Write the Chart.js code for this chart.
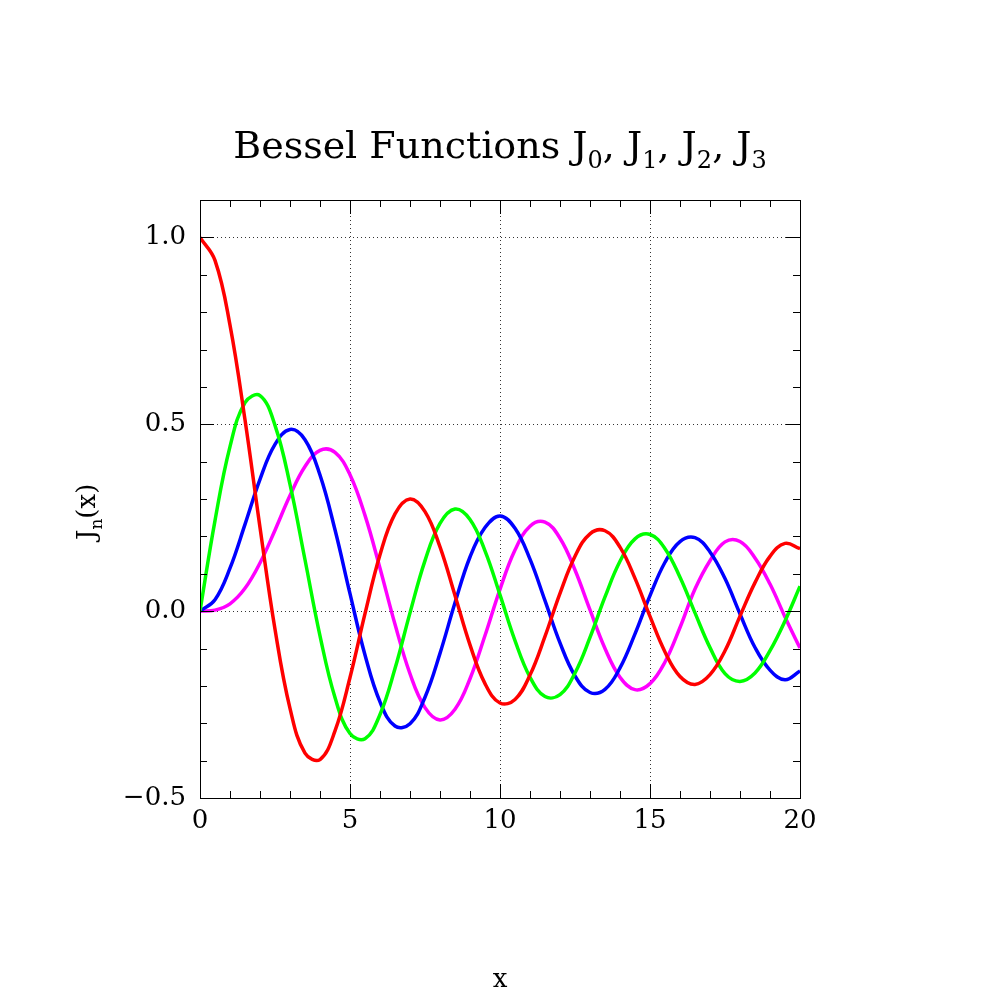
<!DOCTYPE html>
<html><head><meta charset="utf-8">
<script src="https://cdn.jsdelivr.net/npm/chart.js@4/dist/chart.umd.min.js"></script>
<style>body{margin:0;background:#fff}#wrap{width:1000px;height:1000px}</style>
</head><body><div id="wrap"><canvas id="c"></canvas></div>
<script>
// x samples and Bessel values
var xs = [0,0.5,1,1.5,2,2.5,3,3.5,4,4.5,5,5.5,6,6.5,7,7.5,8,8.5,9,9.5,10,10.5,11,11.5,12,12.5,13,13.5,14,14.5,15,15.5,16,16.5,17,17.5,18,18.5,19,19.5,20];
var j0 = [1,0.9385,0.7652,0.5118,0.2239,-0.0484,-0.2601,-0.3801,-0.3971,-0.3205,-0.1776,-0.0068,0.1506,0.2601,0.3001,0.2663,0.1717,0.0419,-0.0903,-0.1939,-0.2459,-0.2366,-0.1712,-0.0677,0.0477,0.1469,0.2069,0.2150,0.1711,0.0875,-0.0142,-0.1092,-0.1749,-0.1960,-0.1699,-0.1061,-0.0134,0.0762,0.1466,0.1813,0.1670];
var j1 = [0,0.2423,0.4401,0.5579,0.5767,0.4971,0.3391,0.1374,-0.0660,-0.2311,-0.3276,-0.3414,-0.2767,-0.1538,-0.0047,0.1352,0.2346,0.2731,0.2453,0.1613,0.0435,-0.0789,-0.1768,-0.2284,-0.2234,-0.1655,-0.0703,0.0380,0.1334,0.1934,0.2051,0.1672,0.0904,-0.0047,-0.0977,-0.1672,-0.1880,-0.1655,-0.1057,-0.0262,0.0668];
var j2 = [0,0.0306,0.1149,0.2321,0.3528,0.4461,0.4861,0.4586,0.3641,0.2178,0.0466,-0.1173,-0.2429,-0.3074,-0.3014,-0.2303,-0.1130,0.0223,0.1448,0.2235,0.2546,0.2216,0.1390,0.0280,-0.0849,-0.1734,-0.2177,-0.2094,-0.1520,-0.0609,0.0416,0.1308,0.1862,0.1966,0.1584,0.0870,-0.0075,-0.0973,-0.1578,-0.1834,-0.1603];
var j3 = [0,0.0026,0.0196,0.0610,0.1289,0.2166,0.3091,0.3868,0.4302,0.4247,0.3648,0.2561,0.1148,-0.0353,-0.1676,-0.2581,-0.2911,-0.2626,-0.1809,-0.0653,0.0584,0.1633,0.2273,0.2381,0.1951,0.1100,0.0033,-0.0999,-0.1768,-0.2101,-0.1940,-0.1360,-0.0438,0.0590,0.1349,0.1853,0.1863,0.1424,0.0725,-0.0155,-0.0989];
var names = ['J0','J1','J2','J3'];
var colors = ['#ff0000','#00ff00','#0000ff','#ff00ff'];
var FONT = '"DejaVu Serif", serif';

function pts(ys){ return xs.map(function(x,i){ return {x:x, y:ys[i]}; }); }

// frame, inner tick marks, title and y label
var decor = {
  id:'decor',
  afterDraw:function(chart){
    var ctx = chart.ctx, a = chart.chartArea, sx = chart.scales.x, sy = chart.scales.y;
    ctx.save();
    ctx.strokeStyle = '#000'; ctx.lineWidth = 1;
    ctx.strokeRect(a.left+0.5, a.top+0.5, a.right-a.left, a.bottom-a.top);
    ctx.beginPath();
    for (var x=0; x<=20; x+=1){
      var px = Math.round(sx.getPixelForValue(x))+0.5, L = (x%5===0)?14:7;
      ctx.moveTo(px,a.bottom); ctx.lineTo(px,a.bottom-L);
      ctx.moveTo(px,a.top); ctx.lineTo(px,a.top+L);
    }
    for (var k=-5; k<=11; k++){
      var py = Math.round(sy.getPixelForValue(k/10))+0.5, M = (k%5===0)?14:7;
      ctx.moveTo(a.left,py); ctx.lineTo(a.left+M,py);
      ctx.moveTo(a.right,py); ctx.lineTo(a.right-M,py);
    }
    ctx.stroke();
    // title with subscripts
    ctx.fillStyle = '#000'; ctx.textBaseline = 'alphabetic';
    var parts = [['Bessel Functions J',0],['0',1],[', J',0],['1',1],[', J',0],['2',1],[', J',0],['3',1]];
    var w = 0;
    parts.forEach(function(p){ ctx.font = (p[1]?'24px ':'38px ')+FONT; w += ctx.measureText(p[0]).width; });
    var cx = 500 - w/2;
    parts.forEach(function(p){ ctx.font = (p[1]?'24px ':'38px ')+FONT; ctx.fillText(p[0], cx, p[1]?168:158); cx += ctx.measureText(p[0]).width; });
    // y label
    ctx.translate(95, 500); ctx.rotate(-Math.PI/2);
    ctx.font = '26px '+FONT; ctx.fillText('J', -40, 0);
    var jw = ctx.measureText('J').width;
    ctx.font = '17px '+FONT; ctx.fillText('n', -40+jw, 7);
    var nw = ctx.measureText('n').width;
    ctx.font = '26px '+FONT; ctx.fillText('(x)', -40+jw+nw, 0);
    ctx.restore();
  }
};

new Chart(document.getElementById('c'), {
  type:'line',
  data:{ datasets: [j0,j1,j2,j3].map(function(ys,i){
    return { label:names[i], data:pts(ys), borderColor:colors[i], borderWidth:3.5, pointRadius:0, tension:0.4, fill:false };
  })},
  options:{
    responsive:true, maintainAspectRatio:false, animation:false,
    layout:{ padding:{ top:200, right:200, left:0, bottom:0 } },
    plugins:{ legend:{display:false}, tooltip:{enabled:false} },
    scales:{
      x:{ type:'linear', min:0, max:20,
          afterFit:function(s){ s.height = 202; },
          ticks:{ stepSize:5, color:'#000', padding:8, font:{family:FONT, size:26}, maxRotation:0 },
          grid:{ color:'#000', lineWidth:0.8, drawTicks:false, borderDash:[1,3] },
          border:{ display:true, color:'#000', dash:[1,3] },
          title:{ display:true, text:'x', color:'#000', font:{family:FONT, size:26}, padding:{top:6} } },
      y:{ type:'linear', min:-0.5, max:1.1,
          afterFit:function(s){ s.width = 200; },
          afterBuildTicks:function(s){ s.ticks = [-0.5,0,0.5,1].map(function(v){ return {value:v}; }); },
          ticks:{ color:'#000', padding:14, font:{family:FONT, size:26},
                  callback:function(v){ return v<0 ? '\u2212'+Math.abs(v).toFixed(1) : v.toFixed(1); } },
          grid:{ color:'#000', lineWidth:0.8, drawTicks:false },
          border:{ display:true, color:'#000', dash:[1,3] } }
    }
  },
  plugins:[decor]
});
</script></body></html>
